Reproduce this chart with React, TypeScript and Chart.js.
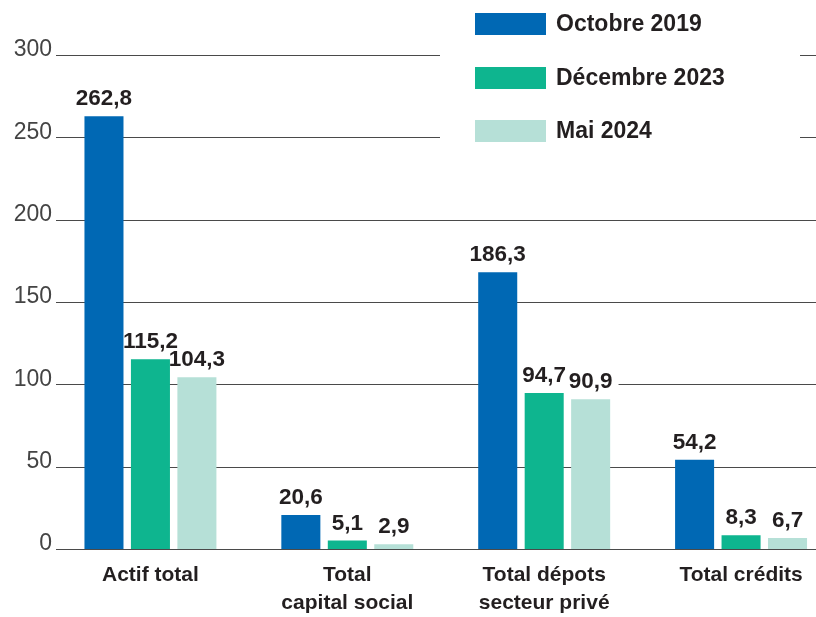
import React, { useEffect, useRef } from "react";
import { Chart, registerables } from "chart.js";

Chart.register(...registerables);

const categories: string[][] = [
  ["Actif total"],
  ["Total", "capital social"],
  ["Total dépots", "secteur privé"],
  ["Total crédits"],
];
const seriesNames = ["Octobre 2019", "Décembre 2023", "Mai 2024"];
const seriesColors = ["#0068B4", "#0EB58F", "#B6E0D7"];
// bar heights as drawn in the picture
const octobre2019 = [262.8, 20.6, 168, 54.2];
const decembre2023 = [115.2, 5.1, 94.7, 8.3];
const mai2024 = [104.3, 2.9, 90.9, 6.7];
// value labels as printed
const octobre2019Labels = ["262,8", "20,6", "186,3", "54,2"];
const decembre2023Labels = ["115,2", "5,1", "94,7", "8,3"];
const mai2024Labels = ["104,3", "2,9", "90,9", "6,7"];
const yMin = 0;
const yMax = 300;
const yStep = 50;

const FONT = "'Liberation Sans', Arial, Helvetica, sans-serif";
const TEXT = "#231f20";
const valueLabels = [octobre2019Labels, decembre2023Labels, mai2024Labels];

const gridPlugin = {
  id: "customGrid",
  beforeDatasetsDraw(chart: any) {
    const ctx = chart.ctx;
    const y = chart.scales.y;
    ctx.save();
    ctx.strokeStyle = "#4a4a4a";
    ctx.lineWidth = 1.2;
    for (let v = yMin; v <= yMax; v += yStep) {
      const py = Math.round(y.getPixelForValue(v)) + 0.5;
      ctx.beginPath();
      ctx.moveTo(56, py);
      ctx.lineTo(chart.width, py);
      ctx.stroke();
    }
    // white backgrounds for value labels
    ctx.font = `bold 22.5px ${FONT}`;
    chart.data.datasets.forEach((ds: any, di: number) => {
      const meta = chart.getDatasetMeta(di);
      meta.data.forEach((bar: any, i: number) => {
        const t = valueLabels[di][i];
        const w = ctx.measureText(t).width;
        ctx.fillStyle = "#ffffff";
        ctx.fillRect(bar.x - w / 2 - 6, bar.y - 33, w + 12, 27);
      });
    });
    // legend background
    ctx.fillStyle = "#ffffff";
    ctx.fillRect(440, 0, 360, 160);
    // legend
    const swY = [13, 67, 120];
    chart.data.datasets.forEach((ds: any, di: number) => {
      ctx.fillStyle = ds.backgroundColor;
      ctx.fillRect(475, swY[di], 71, 22);
      ctx.fillStyle = TEXT;
      ctx.font = `bold 23px ${FONT}`;
      ctx.textAlign = "left";
      ctx.textBaseline = "middle";
      ctx.fillText(ds.label, 556, swY[di] + 12);
    });
    ctx.restore();
  },
  afterDatasetsDraw(chart: any) {
    const ctx = chart.ctx;
    ctx.save();
    ctx.font = `bold 22.5px ${FONT}`;
    ctx.fillStyle = TEXT;
    ctx.textAlign = "center";
    ctx.textBaseline = "alphabetic";
    chart.data.datasets.forEach((ds: any, di: number) => {
      const meta = chart.getDatasetMeta(di);
      meta.data.forEach((bar: any, i: number) => {
        ctx.fillText(valueLabels[di][i], bar.x, bar.y - 11);
      });
    });
    ctx.restore();
  },
};

export default function App() {
  const ref = useRef<HTMLCanvasElement | null>(null);
  useEffect(() => {
    if (!ref.current) return;
    const chart = new Chart(ref.current, {
      type: "bar",
      data: {
        labels: categories,
        datasets: [octobre2019, decembre2023, mai2024].map((d, i) => ({
          label: seriesNames[i],
          data: d,
          backgroundColor: seriesColors[i],
          borderWidth: 0,
          categoryPercentage: 0.708,
          barPercentage: 0.84,
        })),
      },
      options: {
        responsive: false,
        animation: false,
        devicePixelRatio: 1,
        layout: { padding: { top: 55, right: 10.5, left: 0, bottom: 0 } },
        plugins: {
          legend: { display: false },
          tooltip: { enabled: false },
        },
        scales: {
          x: {
            grid: { display: false, drawTicks: false },
            border: { display: false },
            ticks: {
              font: { family: FONT, size: 21, weight: "bold", lineHeight: 1.3 },
              color: TEXT,
              padding: 13,
              maxRotation: 0,
              autoSkip: false,
            },
            afterFit: (s: any) => {
              s.height = 68;
            },
          },
          y: {
            min: yMin,
            max: yMax,
            grid: { display: false, drawTicks: false },
            border: { display: false },
            ticks: {
              stepSize: yStep,
              font: { family: FONT, size: 23, weight: "normal" },
              color: "#444444",
              padding: 0,
              labelOffset: -5,
            },
            afterFit: (s: any) => {
              s.width = 52;
            },
          },
        },
      },
      plugins: [gridPlugin],
    });
    return () => chart.destroy();
  }, []);
  return (
    <div
      style={{
        position: "fixed",
        left: 0,
        top: 0,
        width: 816,
        height: 617,
        overflow: "hidden",
        background: "#fff",
      }}
    >
      <canvas ref={ref} width={850} height={617} style={{ width: 850, height: 617, display: "block" }} />
    </div>
  );
}
